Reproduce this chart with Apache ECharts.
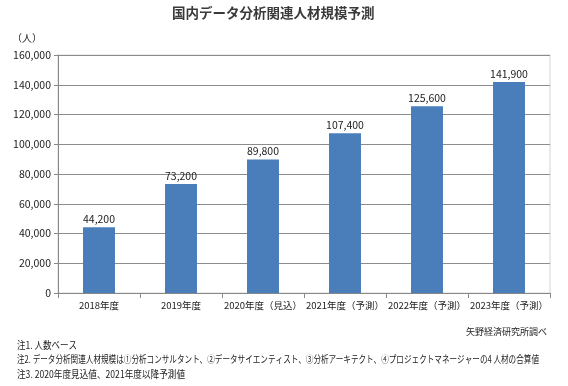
<!DOCTYPE html>
<html><head><meta charset="utf-8">
<script src="https://cdn.jsdelivr.net/npm/echarts@6/dist/echarts.min.js"></script>
<style>html,body{margin:0;padding:0;background:#fff}#c{width:568px;height:386px}</style>
</head><body><div id="c"></div>
<script>
const categories = ['2018年度','2019年度','2020年度（見込）','2021年度（予測）','2022年度（予測）','2023年度（予測）'];
const values = [44200, 73200, 89800, 107400, 125600, 141900];
const yTicks = [0, 20000, 40000, 60000, 80000, 100000, 120000, 140000, 160000];
const titleText = '国内データ分析関連人材規模予測';
const unitText = '（人）';
const sourceText = '矢野経済研究所調べ';
const notes = ['注1. 人数ベース','注2. データ分析関連人材規模は①分析コンサルタント、②データサイエンティスト、③分析アーキテクト、④プロジェクトマネージャーの4 人材の合算値','注3. 2020年度見込値、2021年度以降予測値'];

const font = '"Noto Sans CJK JP", "Noto Sans", sans-serif';
const noteFont = '10px ' + font;
const ctx = document.createElement('canvas').getContext('2d');
ctx.font = noteFont;
const noteWidths = [60, 522, 168];
const noteY = [345, 359, 374];

const fmt = v => v.toLocaleString('en-US');
const chart = echarts.init(document.getElementById('c'), null, {renderer:'canvas'});
chart.setOption({
  backgroundColor:'#fff',
  animation:false,
  textStyle:{fontFamily:font},
  grid:{left:58, right:18, top:55, bottom:93, show:true, borderColor:'#d4d4d4', borderWidth:1},
  xAxis:{type:'category', data:categories,
    axisLine:{lineStyle:{color:'#888'}},
    axisTick:{show:true, length:5, lineStyle:{color:'#888'}},
    axisLabel:{color:'#222', fontSize:9.5, margin:8, interval:0}},
  yAxis:{type:'value', min:yTicks[0], max:yTicks[yTicks.length-1], interval:20000,
    axisLine:{show:true, lineStyle:{color:'#888'}},
    axisTick:{show:true, length:4, lineStyle:{color:'#888'}},
    splitLine:{lineStyle:{color:'#8c8c8c'}},
    axisLabel:{color:'#222', fontSize:10.5, margin:7, formatter:fmt}},
  series:[{type:'bar', data:values, barWidth:'39%',
    itemStyle:{color:'#4a7ebb'},
    label:{show:true, position:'top', color:'#222', fontSize:10.5, distance:3, formatter:p=>fmt(p.value)}}],
  graphic:[
    {type:'text', x:172, y:13, style:{text:titleText, font:'bold 13.5px '+font, fill:'#3a3a3a', verticalAlign:'middle'}},
    {type:'text', x:12, y:38, style:{text:unitText, font:'10px '+font, fill:'#222', verticalAlign:'middle'}},
    {type:'text', x:547, y:332, style:{text:sourceText, font:'9px '+font, fill:'#222', align:'right', verticalAlign:'middle'}},
  ].concat(notes.map((t,i)=>({type:'text', x:17, y:noteY[i], scaleX:noteWidths[i]/ctx.measureText(t).width, originX:0,
    style:{text:t, font:noteFont, fill:'#222', verticalAlign:'middle'}})))
});
</script></body></html>
